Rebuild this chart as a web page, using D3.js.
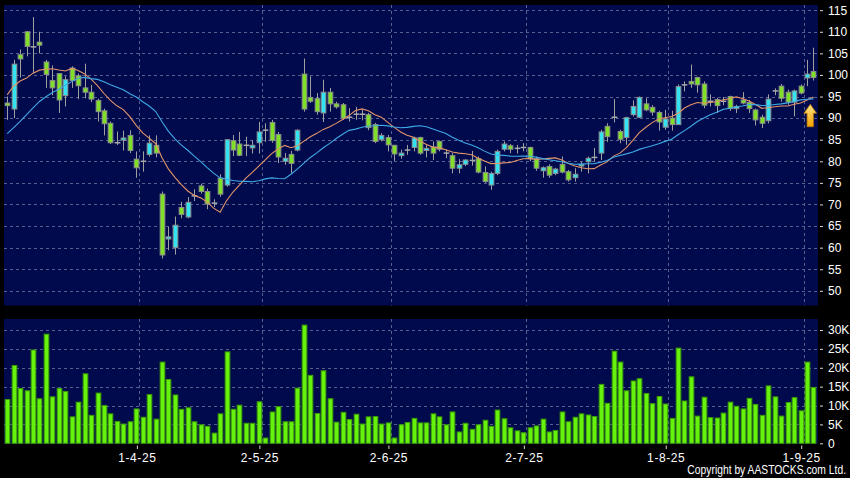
<!DOCTYPE html>
<html><head><meta charset="utf-8">
<script src="https://cdn.jsdelivr.net/npm/d3@7"></script>
<style>html,body{margin:0;padding:0;background:#000;} svg{display:block;}</style>
</head><body><svg id="c" width="850" height="478"></svg>
<script>
const dates = [
"2025-03-03","2025-03-04","2025-03-05","2025-03-06","2025-03-07","2025-03-10","2025-03-11","2025-03-12","2025-03-13","2025-03-14","2025-03-17","2025-03-18","2025-03-19","2025-03-20","2025-03-21","2025-03-24","2025-03-25","2025-03-26","2025-03-27","2025-03-28","2025-03-31",
"2025-04-01","2025-04-02","2025-04-03","2025-04-07","2025-04-08","2025-04-09","2025-04-10","2025-04-11","2025-04-14","2025-04-15","2025-04-16","2025-04-17","2025-04-22","2025-04-23","2025-04-24","2025-04-25","2025-04-28","2025-04-29","2025-04-30",
"2025-05-02","2025-05-06","2025-05-07","2025-05-08","2025-05-09","2025-05-12","2025-05-13","2025-05-14","2025-05-15","2025-05-16","2025-05-19","2025-05-20","2025-05-21","2025-05-22","2025-05-23","2025-05-26","2025-05-27","2025-05-28","2025-05-29","2025-05-30",
"2025-06-02","2025-06-03","2025-06-04","2025-06-05","2025-06-06","2025-06-09","2025-06-10","2025-06-11","2025-06-12","2025-06-13","2025-06-16","2025-06-17","2025-06-18","2025-06-19","2025-06-20","2025-06-23","2025-06-24","2025-06-25","2025-06-26","2025-06-27","2025-06-30",
"2025-07-02","2025-07-03","2025-07-04","2025-07-07","2025-07-08","2025-07-09","2025-07-10","2025-07-11","2025-07-14","2025-07-15","2025-07-16","2025-07-17","2025-07-18","2025-07-21","2025-07-22","2025-07-23","2025-07-24","2025-07-25","2025-07-28","2025-07-29","2025-07-30","2025-07-31",
"2025-08-01","2025-08-04","2025-08-05","2025-08-06","2025-08-07","2025-08-08","2025-08-11","2025-08-12","2025-08-13","2025-08-14","2025-08-15","2025-08-18","2025-08-19","2025-08-20","2025-08-21","2025-08-22","2025-08-25","2025-08-26","2025-08-27","2025-08-28","2025-08-29",
"2025-09-01","2025-09-02"];

const open = [
93.5,92.1,104.7,110.0,106.5,107.6,103.0,98.7,100.3,95.2,
101.6,99.8,97.0,96.0,94.1,91.7,88.8,84.3,84.9,86.0,
80.5,80.0,81.6,83.7,72.4,62.0,60.0,69.3,67.1,72.0,
74.3,73.0,70.3,76.1,74.5,84.8,84.0,83.7,83.1,84.3,
87.2,89.0,86.2,80.0,81.6,82.6,100.2,94.8,94.5,91.2,
96.0,93.3,93.1,90.2,90.9,90.9,90.8,88.5,85.0,85.5,
83.7,81.3,82.6,83.2,85.5,82.5,83.3,84.6,81.9,81.3,
78.4,79.3,80.2,80.6,77.4,74.5,77.2,82.8,83.6,83.0,
83.2,83.2,80.6,77.8,78.8,77.2,79.3,77.6,76.2,78.9,
79.9,80.9,81.9,88.1,90.2,86.9,85.5,90.8,90.2,93.3,
92.5,91.3,87.9,90.0,88.5,97.7,98.5,99.4,97.9,93.9,
94.3,93.9,95.0,92.2,94.2,93.6,91.9,90.2,89.4,96.3,
97.4,96.0,93.7,97.4,99.3,100.8];

const high = [
95.0,103.5,105.9,110.2,113.4,110.0,103.5,102.2,100.4,99.7,
102.0,100.3,102.6,97.7,94.5,92.2,89.2,86.9,87.1,87.2,
82.3,82.3,86.0,86.0,73.0,64.8,67.2,70.6,71.7,73.5,
74.8,73.7,71.2,77.0,85.0,86.1,86.8,85.7,84.9,89.1,
88.8,89.6,86.8,81.9,82.4,87.4,103.8,99.7,95.8,98.9,
97.0,93.8,93.5,92.3,92.6,92.0,91.2,88.9,86.5,86.1,
83.8,82.7,83.8,85.7,85.7,83.8,84.6,84.8,82.7,81.9,
80.5,80.5,82.4,81.1,78.8,77.6,82.7,84.6,84.0,83.8,
84.2,83.4,81.1,78.8,79.3,78.5,81.1,78.0,78.4,79.9,
81.1,83.1,87.3,88.8,94.4,87.3,90.3,94.1,95.0,94.6,
93.0,91.7,91.9,91.7,97.8,98.5,102.4,99.6,98.5,95.5,
94.7,94.9,95.2,93.1,96.0,94.2,92.2,90.8,95.5,96.9,
97.9,96.6,96.6,97.8,103.5,106.3];

const low = [
89.6,90.0,99.4,104.3,100.4,105.0,97.0,95.3,91.2,92.7,
97.0,94.4,94.6,93.7,89.2,86.0,84.0,83.8,82.5,81.9,
76.2,77.6,81.1,80.9,57.5,59.4,58.4,66.8,66.8,70.8,
72.5,68.9,69.4,71.8,74.1,81.2,81.2,81.2,81.8,81.8,
84.5,84.3,79.6,79.2,77.3,82.3,91.5,93.5,90.8,89.1,
91.5,92.2,89.6,89.2,89.6,89.5,87.2,84.2,84.6,82.3,
80.1,80.6,81.5,82.3,81.5,80.9,80.3,82.3,80.7,77.2,
77.2,78.9,79.0,77.2,75.0,73.4,76.8,82.3,81.9,81.8,
82.3,80.0,77.8,76.2,76.2,76.8,77.2,75.3,75.3,77.6,
77.2,79.9,80.3,84.5,89.0,84.2,83.8,90.4,90.0,91.6,
90.6,87.1,87.3,87.1,88.4,96.2,97.0,95.9,92.3,92.7,
91.2,93.0,91.7,91.2,93.2,91.2,88.3,87.7,88.8,95.3,
93.8,93.1,90.4,95.5,97.4,98.7];

const close = [
92.9,102.5,103.7,106.6,106.5,106.9,100.1,97.0,94.2,98.9,
98.7,97.5,96.0,94.4,91.5,88.7,84.3,84.3,85.4,82.5,
78.5,80.0,84.2,81.9,58.3,62.5,65.2,67.7,70.5,72.0,
73.0,70.1,70.3,72.4,85.0,82.6,81.4,83.7,83.7,86.8,
87.2,84.8,81.0,80.7,79.5,87.2,92.1,93.9,91.5,96.0,
93.3,92.6,90.0,90.2,90.9,90.9,87.8,84.6,86.0,83.8,
81.7,81.9,82.6,85.4,81.9,83.0,81.9,82.8,81.9,78.4,
79.2,80.3,80.2,77.5,75.3,77.2,82.3,84.0,82.8,83.0,
83.2,80.6,78.4,78.5,76.8,78.2,77.5,75.7,77.0,79.3,
80.7,80.9,86.8,85.7,90.2,85.1,90.1,92.7,94.8,91.9,
91.4,89.1,89.8,88.5,97.3,97.7,97.9,97.7,93.0,93.9,
92.9,93.9,92.2,92.7,93.5,92.2,89.6,88.8,94.4,96.3,
94.6,93.7,96.3,95.8,100.2,99.4];

// volume in thousands
const volume = [
11.6,20.6,14.5,13.9,24.7,11.8,28.9,12.3,14.5,13.7,
7.0,10.9,18.4,7.4,13.3,10.0,7.8,5.8,5.1,5.7,
9.1,6.9,12.9,6.4,21.5,16.9,12.8,9.0,9.4,5.7,
4.9,4.5,2.7,7.8,24.2,9.0,10.1,5.3,5.3,11.0,
1.4,8.3,9.7,5.7,5.7,14.6,31.3,18.0,7.9,19.2,
11.8,5.6,8.2,6.3,7.7,5.1,7.0,7.1,5.1,5.4,
1.4,4.9,5.5,6.6,5.4,5.4,7.8,7.0,4.9,8.3,
3.0,5.3,3.7,4.9,6.1,4.5,8.8,6.5,4.1,3.3,
2.8,4.1,4.6,6.4,3.0,3.4,8.3,5.7,6.9,7.8,
7.5,7.1,15.6,10.6,24.4,21.5,13.9,16.5,17.1,13.2,
10.5,12.4,10.4,6.6,25.2,11.2,17.6,7.2,12.2,6.8,
6.7,8.0,10.9,9.8,9.1,11.9,10.3,7.4,15.2,12.3,
7.2,10.8,12.1,8.6,21.5,14.8];

// closes of the 19 sessions before the first bar (for the moving averages)
const priorClose = [74,75,76,75,77,78,78,79,80,82,82,92,100,95,100,98,96,97,101];

const priceTicks = [50,55,60,65,70,75,80,85,90,95,100,105,110,115];
const volTicks = [0,5,10,15,20,25,30];
const volTickLabels = ["0","5K","10K","15K","20K","25K","30K"];
const dateTickDates = ["2025-04-01","2025-05-02","2025-06-02","2025-07-02","2025-08-01","2025-09-01"];
const dateTickLabels = ["1-4-25","2-5-25","2-6-25","2-7-25","1-8-25","1-9-25"];
const maPeriods = [10,20];
const maColors = ["#e39468","#3fa9e6"];

const svg = d3.select("#c");
const N = dates.length;
const LEFT = 4, RIGHT = 818;
const P_TOP = 5, P_BOT = 305.5, V_TOP = 319, V_BOT = 444;
const BG = "#000a4d";
const GRID = "#56608f";
const FONT = "'Liberation Sans', Arial, sans-serif";

svg.append("rect").attr("width",850).attr("height",478).attr("fill","#000");

const x = d3.scaleBand().domain(dates).range([LEFT, 816.7]).padding(0);
const xi = d3.scaleLinear().domain([0, N]).range([LEFT, 816.7]);
const cx = i => x(dates[i]) + x.bandwidth()/2;
const bw = x.bandwidth()*0.88;
const yP = d3.scaleLinear().domain([46.6,116.2]).range([P_BOT,P_TOP]);
const yV = d3.scaleLinear().domain([0,30]).range([443.3,330]);

// panels
svg.append("rect").attr("x",LEFT).attr("y",P_TOP).attr("width",RIGHT-LEFT).attr("height",P_BOT-P_TOP).attr("fill",BG);
svg.append("rect").attr("x",LEFT).attr("y",V_TOP).attr("width",RIGHT-LEFT).attr("height",V_BOT-V_TOP).attr("fill",BG);

const tickIdx = dateTickDates.map(d => dates.indexOf(d));

// grid
const grid = svg.append("g").attr("stroke",GRID).attr("stroke-width",1).attr("stroke-dasharray","3,3").attr("fill","none");
priceTicks.forEach(t => grid.append("line").attr("x1",LEFT).attr("x2",RIGHT).attr("y1",Math.round(yP(t))+0.5).attr("y2",Math.round(yP(t))+0.5));
volTicks.filter(t=>t>0).forEach(t => grid.append("line").attr("x1",LEFT).attr("x2",RIGHT).attr("y1",Math.round(yV(t))+0.5).attr("y2",Math.round(yV(t))+0.5));
tickIdx.forEach(i => {
  const xx = Math.round(xi(i))+0.5;
  grid.append("line").attr("x1",xx).attr("x2",xx).attr("y1",P_TOP).attr("y2",P_BOT);
  grid.append("line").attr("x1",xx).attr("x2",xx).attr("y1",V_TOP).attr("y2",V_BOT);
});

// candles
const UP = "#33e3f2", DOWN = "#80e028", DOJI = "#a8a8a8", EDGE = "#8d8d8d";
const cg = svg.append("g");
d3.range(N).forEach(i => {
  const o = open[i], c = close[i];
  const xc = Math.round(cx(i)) + 0.5;
  cg.append("line").attr("x1",xc).attr("x2",xc).attr("y1",yP(high[i])).attr("y2",yP(low[i]))
    .attr("stroke","#a0a0a0").attr("stroke-width",1);
  const top = yP(Math.max(o,c)), bot = yP(Math.min(o,c));
  if (o === c) {
    cg.append("rect").attr("x",xc-bw/2).attr("y",top-0.75).attr("width",bw).attr("height",1.5).attr("fill",DOJI);
  } else {
    cg.append("rect").attr("x",xc-bw/2+0.5).attr("y",top).attr("width",bw-1).attr("height",Math.max(1,bot-top))
      .attr("fill", c > o ? UP : DOWN).attr("stroke",EDGE).attr("stroke-width",1);
  }
});

// moving averages
const allClose = priorClose.concat(close);
const off = priorClose.length;
maPeriods.forEach((p,k) => {
  const ma = d3.range(N).map(i => d3.mean(allClose.slice(i+off-p+1, i+off+1)));
  svg.append("path").datum(ma)
    .attr("d", d3.line().x((d,i)=>cx(i)).y(d=>yP(d)))
    .attr("fill","none").attr("stroke",maColors[k]).attr("stroke-width",1.1);
});

// arrow marker
const defs = svg.append("defs");
const gr = defs.append("linearGradient").attr("id","ag").attr("x1",0).attr("x2",0).attr("y1",0).attr("y2",1);
gr.append("stop").attr("offset","0%").attr("stop-color","#ffe58a");
gr.append("stop").attr("offset","100%").attr("stop-color","#f2a100");
svg.append("path")
  .attr("transform",`translate(${xi(N-1)},${yP(93.2)})`)
  .attr("d","M0,0 L6.3,9 L3.2,9 L3.2,22.4 L-3.2,22.4 L-3.2,9 L-6.3,9 Z")
  .attr("fill","url(#ag)").attr("stroke","#b57400").attr("stroke-width",0.8);

// volume bars
const vg = svg.append("g");
d3.range(N).forEach(i => {
  vg.append("rect").attr("x",Math.round(cx(i))+0.5-bw/2+0.5).attr("y",yV(volume[i]))
    .attr("width",bw-1).attr("height",yV(0)-yV(volume[i]))
    .attr("fill","#66f20c").attr("stroke","#3a9a06").attr("stroke-width",1);
});

// axes
function styleAxis(size){
  return g => {
    g.select(".domain").remove();
    g.selectAll("line").attr("stroke","#d8d8d8");
    g.selectAll("text").attr("fill","#ffffff").style("font-family",FONT).style("font-size",size);
  };
}
svg.append("g").attr("transform","translate(820,0)")
  .call(d3.axisRight(yP).tickValues(priceTicks).tickSize(3).tickPadding(5).tickFormat(d3.format("d")))
  .call(styleAxis("12px"));
svg.append("g").attr("transform","translate(820,0)")
  .call(d3.axisRight(yV).tickValues(volTicks).tickSize(3).tickPadding(5).tickFormat((d,i)=>volTickLabels[i]))
  .call(styleAxis("12px"));
svg.append("g").attr("transform","translate(-2.6,445.5)")
  .call(d3.axisBottom(xi).tickValues(tickIdx).tickSize(3.5).tickPadding(4).tickFormat((d,i)=>dateTickLabels[i]))
  .call(styleAxis("12px"))
  .call(g => g.selectAll("text").attr("letter-spacing","0.6px"));

svg.append("text").attr("transform","translate(846,474) scale(0.86,1)").attr("text-anchor","end")
  .style("font-family",FONT).style("font-size","12px").attr("fill","#ffffff")
  .text("Copyright by AASTOCKS.com Ltd.");
</script>
</body></html>
